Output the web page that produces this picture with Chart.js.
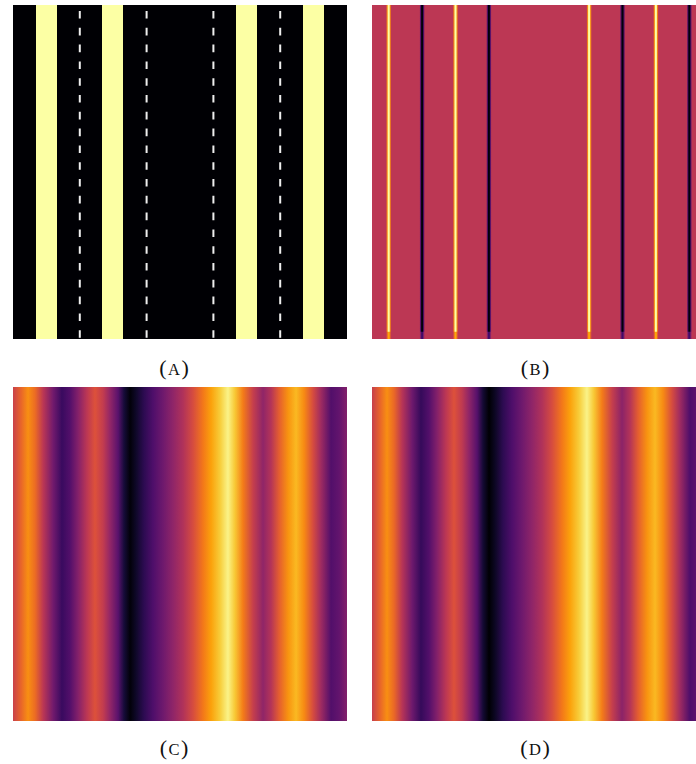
<!DOCTYPE html>
<html>
<head>
<meta charset="utf-8">
<script src="https://cdn.jsdelivr.net/npm/chart.js@4.4.1/dist/chart.umd.min.js"></script>
<style>
  html, body { margin: 0; padding: 0; background: #fff; }
  body { width: 696px; height: 764px; overflow: hidden; position: relative; }
  .panel { position: absolute; width: 334px; height: 334px; }
  .label { position: absolute; width: 80px; margin-left: -40px; text-align: center;
           font-family: 'Liberation Serif', serif; font-size: 22px; line-height: 26px; color: #111; }
  .label span { font-size: 16.5px; letter-spacing: 1.5px; padding-left: 1.5px; }
</style>
</head>
<body>
<canvas id="panel-a" class="panel" width="334" height="334" style="left:13px;top:5px"></canvas>
<canvas id="panel-b" class="panel" width="334" height="334" style="left:372px;top:5px"></canvas>
<canvas id="panel-c" class="panel" width="334" height="334" style="left:13px;top:387px"></canvas>
<canvas id="panel-d" class="panel" width="334" height="334" style="left:372px;top:387px"></canvas>
<div class="label" style="left:174px;top:355px">(<span>A</span>)</div>
<div class="label" style="left:535px;top:355px">(<span>B</span>)</div>
<div class="label" style="left:174px;top:735px">(<span>C</span>)</div>
<div class="label" style="left:535px;top:735px">(<span>D</span>)</div>
<script>
const xMin = -1, xMax = 1;

// (A) bright stripes (value 1) on a value-0 ground, dashed guide lines
const stripeStartA = [-0.862, -0.467, 0.335, 0.737];
const stripeEndA = [-0.737, -0.341, 0.461, 0.862];
const dashesA = [-0.6, -0.2, 0.2, 0.6];

// (B) flat field with thin bright and dark lines
const levelB = 0.5;
const brightB = [-0.9, -0.5, 0.3, 0.7];
const darkB = [-0.7, -0.3, 0.5, 0.9];
const lineOffsetB = [-0.016, -0.009, -0.003, 0.003, 0.009, 0.016];
const brightShapeB = [0.5, 0.74, 1.0, 1.0, 0.74, 0.5];
const darkShapeB = [0.5, 0.24, 0.01, 0.01, 0.24, 0.5];
// the last few rows at the bottom are softer
const edgeRowsB = 0.022;
const brightEdgeB = [0.5, 0.64, 0.8, 0.8, 0.64, 0.5];
const darkEdgeB = [0.5, 0.36, 0.2, 0.2, 0.36, 0.5];

// (C) and (D) smooth profiles across x
const profileX = [-1.000, -0.952, -0.910, -0.868, -0.820, -0.760, -0.707, -0.659, -0.611, -0.557,
                  -0.509, -0.461, -0.419, -0.371, -0.335, -0.299, -0.263, -0.216, -0.162, -0.102,
                  -0.042, 0.018, 0.078, 0.138, 0.186, 0.240, 0.287, 0.329, 0.377, 0.437,
                  0.497, 0.545, 0.593, 0.647, 0.695, 0.743, 0.796, 0.844, 0.904, 0.952, 1.000];
const profileC = [0.54, 0.65, 0.75, 0.67, 0.50, 0.32, 0.18, 0.24, 0.36, 0.50,
                  0.60, 0.52, 0.40, 0.26, 0.10, 0.01, 0.07, 0.15, 0.23, 0.31,
                  0.39, 0.47, 0.58, 0.70, 0.79, 0.88, 0.97, 0.87, 0.71, 0.53,
                  0.39, 0.48, 0.63, 0.76, 0.84, 0.74, 0.58, 0.43, 0.24, 0.28, 0.36];
const profileD = [0.53, 0.65, 0.75, 0.66, 0.49, 0.31, 0.17, 0.24, 0.36, 0.50,
                  0.60, 0.51, 0.39, 0.25, 0.09, 0.00, 0.06, 0.15, 0.23, 0.31,
                  0.39, 0.47, 0.58, 0.70, 0.79, 0.88, 0.97, 0.87, 0.71, 0.53,
                  0.38, 0.48, 0.63, 0.76, 0.84, 0.74, 0.58, 0.43, 0.23, 0.28, 0.36];

const inferno = ['#000004', '#160b39', '#420a68', '#6a176e', '#932667', '#bc3754',
                 '#dd513a', '#f37819', '#fca50a', '#f6d746', '#fcffa4']
    .map(h => [1, 3, 5].map(i => parseInt(h.slice(i, i + 2), 16)));

function cmap(v) {
    const t = Math.max(0, Math.min(1, v)) * 10;
    const i = Math.min(9, Math.floor(t));
    const f = t - i;
    const a = inferno[i], b = inferno[i + 1];
    const c = a.map((ch, k) => Math.round(ch + (b[k] - ch) * f));
    return `rgb(${c[0]},${c[1]},${c[2]})`;
}

// horizontal gradient whose stops sit on the x scale
function gradientFill(stops) {
    return (ctx) => {
        const chart = ctx.chart;
        if (!chart.chartArea) return null;
        const sx = chart.scales.x;
        const x0 = sx.getPixelForValue(xMin), x1 = sx.getPixelForValue(xMax);
        const g = chart.ctx.createLinearGradient(x0, 0, x1, 0);
        stops.forEach(([x, v]) => {
            const off = Math.max(0, Math.min(1, (sx.getPixelForValue(x) - x0) / (x1 - x0)));
            g.addColorStop(off, cmap(v));
        });
        return g;
    };
}

function band(yTop, stops, order) {
    return {
        data: [{ x: xMin, y: yTop }, { x: xMax, y: yTop }],
        fill: { value: 0 },
        backgroundColor: gradientFill(stops),
        borderColor: 'transparent',
        borderWidth: 0,
        pointRadius: 0,
        order
    };
}

function lineStops(shapeBright, shapeDark) {
    const lines = brightB.map(c => [c, shapeBright]).concat(darkB.map(c => [c, shapeDark]))
        .sort((p, q) => p[0] - q[0]);
    const stops = [[xMin, levelB]];
    lines.forEach(([c, shape]) => {
        lineOffsetB.forEach((o, k) => stops.push([c + o, shape[k]]));
    });
    stops.push([xMax, levelB]);
    return stops;
}

function makePanel(id, datasets) {
    return new Chart(document.getElementById(id), {
        type: 'line',
        data: { datasets },
        options: {
            responsive: false,
            animation: false,
            events: [],
            layout: { padding: 0 },
            elements: { line: { tension: 0 } },
            plugins: { legend: { display: false }, tooltip: { enabled: false } },
            scales: {
                x: { type: 'linear', min: xMin, max: xMax, display: false },
                y: { type: 'linear', min: 0, max: 1, display: false }
            }
        }
    });
}

// (A)
const stopsA = [[xMin, 0]];
stripeStartA.forEach((s, i) => {
    stopsA.push([s, 0], [s, 1], [stripeEndA[i], 1], [stripeEndA[i], 0]);
});
stopsA.push([xMax, 0]);
const dashSets = dashesA.map(x => ({
    data: [{ x, y: 1 }, { x, y: 0 }],
    borderColor: '#eeeeee',
    borderWidth: 2,
    borderDash: [7.6, 9.2],
    borderDashOffset: 10.8,
    pointRadius: 0,
    fill: false,
    order: 0
}));
makePanel('panel-a', [...dashSets, band(1, stopsA, 2)]);

// (B)
makePanel('panel-b', [
    band(edgeRowsB, lineStops(brightEdgeB, darkEdgeB), 1),
    band(1, lineStops(brightShapeB, darkShapeB), 2)
]);

// (C), (D)
makePanel('panel-c', [band(1, profileX.map((x, i) => [x, profileC[i]]), 1)]);
makePanel('panel-d', [band(1, profileX.map((x, i) => [x, profileD[i]]), 1)]);
</script>
</body>
</html>
